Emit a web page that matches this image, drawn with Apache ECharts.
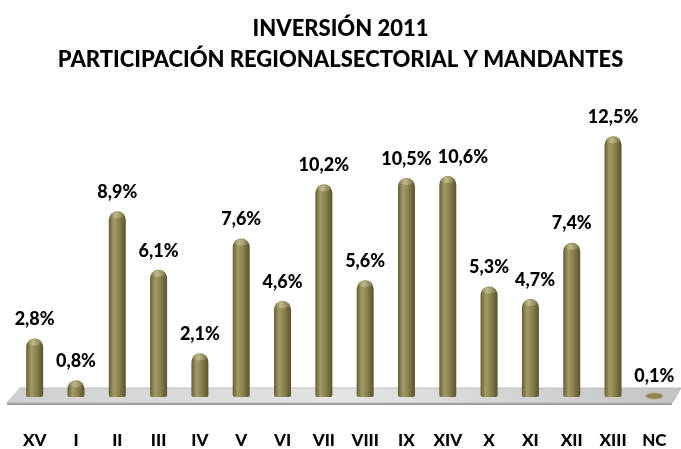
<!DOCTYPE html>
<html>
<head>
<meta charset="utf-8">
<script src="https://cdn.jsdelivr.net/npm/echarts@6/dist/echarts.min.js"></script>
<style>
  html, body { margin: 0; padding: 0; background: #fff; }
  #main { width: 681px; height: 449px; }
</style>
</head>
<body>
<div id="main"></div>
<script>
var regiones = ['XV', 'I', 'II', 'III', 'IV', 'V', 'VI', 'VII', 'VIII', 'IX', 'XIV', 'X', 'XI', 'XII', 'XIII', 'NC'];
var participacion = [2.8, 0.8, 8.9, 6.1, 2.1, 7.6, 4.6, 10.2, 5.6, 10.5, 10.6, 5.3, 4.7, 7.4, 12.5, 0.1];

var chart = echarts.init(document.getElementById('main'));

function fmt(v) {
    return v.toFixed(1).replace('.', ',') + '%';
}

// cuerpo del cilindro
var bodyGrad = new echarts.graphic.LinearGradient(0, 0, 1, 0, [
    { offset: 0, color: '#655e34' },
    { offset: 0.3, color: '#a39b66' },
    { offset: 0.55, color: '#8e8753' },
    { offset: 1, color: '#59532e' }
]);
var capGrad = new echarts.graphic.LinearGradient(0, 0, 1, 0, [
    { offset: 0, color: '#8e8752' },
    { offset: 0.4, color: '#c9c29a' },
    { offset: 1, color: '#7f784a' }
]);

function renderBar(params, api) {
    var idx = api.value(0);
    var val = api.value(1);
    var base = api.coord([idx, 0]);
    var top = api.coord([idx, val]);
    var w = 17;
    var x = base[0] - w / 2;
    var h = base[1] - top[1];
    if (h > 3) {
        return {
            type: 'group',
            children: [
                {
                    type: 'rect',
                    shape: { x: x, y: top[1], width: w, height: h, r: [w / 2, w / 2, 2, 2] },
                    style: { fill: bodyGrad }
                },
                {
                    type: 'ellipse',
                    shape: { cx: base[0], cy: top[1] + 4, rx: w / 2 - 1.5, ry: 3 },
                    style: { fill: capGrad, opacity: 0.8 }
                }
            ]
        };
    }
    // barra casi nula: solo un disco sobre el piso
    return {
        type: 'ellipse',
        shape: { cx: base[0], cy: base[1] - 1, rx: w / 2, ry: 3 },
        style: { fill: '#8c8550', stroke: '#b0a977', lineWidth: 1 }
    };
}

function renderFloor(params, api) {
    var cs = params.coordSys;
    var by = api.coord([0, 0])[1];
    var l = cs.x, r = cs.x + cs.width;
    return {
        type: 'group',
        children: [
            {
                type: 'polygon',
                shape: { points: [[l - 7, by + 6], [r - 3, by + 6], [r - 3, by + 8], [l - 7, by + 8]] },
                style: { fill: '#9a9a9a' }
            },
            {
                type: 'polygon',
                shape: { points: [[l - 7, by + 6], [l + 6, by - 9], [r + 6, by - 9], [r - 3, by + 6]] },
                style: {
                    fill: new echarts.graphic.LinearGradient(0, 0, 1, 1, [
                        { offset: 0, color: '#cfcfcf' },
                        { offset: 0.5, color: '#e4e4e4' },
                        { offset: 1, color: '#c4c4c4' }
                    ]),
                    stroke: '#b4b4b4',
                    lineWidth: 0.8
                }
            }
        ]
    };
}

// empuja a la derecha una etiqueta que se monta sobre la anterior
var lastLabel = null;
function shiftLabels(p) {
    var r = p.labelRect;
    if (p.dataIndex === 0) lastLabel = null;
    var dx = 0;
    if (lastLabel && r.y < lastLabel.y + lastLabel.height && r.y + r.height > lastLabel.y &&
        r.x < lastLabel.right + 6) {
        dx = lastLabel.right + 6 - r.x;
    }
    lastLabel = { right: r.x + r.width + dx, y: r.y, height: r.height };
    return { dx: dx };
}

var barData = participacion.map(function (v, i) { return [i, v]; });

chart.setOption({
    animation: false,
    title: {
        text: 'INVERSIÓN 2011\nPARTICIPACIÓN REGIONALSECTORIAL Y MANDANTES',
        left: 'center',
        top: 8,
        textStyle: {
            fontFamily: 'Lato',
            fontWeight: 900,
            fontSize: 22,
            lineHeight: 31,
            color: '#000'
        }
    },
    grid: { left: 14, right: 6, top: 105, bottom: 51 },
    xAxis: {
        type: 'category',
        data: regiones,
        axisLine: { show: false },
        axisTick: { show: false },
        axisLabel: {
            margin: 35,
            color: '#000',
            fontFamily: 'Lato',
            fontWeight: 900,
            fontSize: 17
        }
    },
    yAxis: {
        type: 'value',
        min: 0,
        max: 14,
        show: false,
        splitLine: { show: false }
    },
    series: [
        {
            type: 'custom',
            renderItem: renderFloor,
            data: [[0]],
            z: 1,
            silent: true
        },
        {
            type: 'custom',
            renderItem: renderBar,
            data: barData,
            encode: { x: 0, y: 1 },
            z: 2
        },
        {
            // serie invisible que solo lleva las etiquetas
            type: 'bar',
            data: participacion,
            barWidth: 17,
            itemStyle: { color: 'rgba(0,0,0,0)' },
            silent: true,
            z: 3,
            label: {
                show: true,
                position: 'top',
                distance: 10,
                color: '#000',
                fontFamily: 'Lato',
                fontWeight: 900,
                fontSize: 18,
                formatter: function (p) { return fmt(p.value); }
            },
            labelLayout: shiftLabels
        }
    ]
});
</script>
</body>
</html>
